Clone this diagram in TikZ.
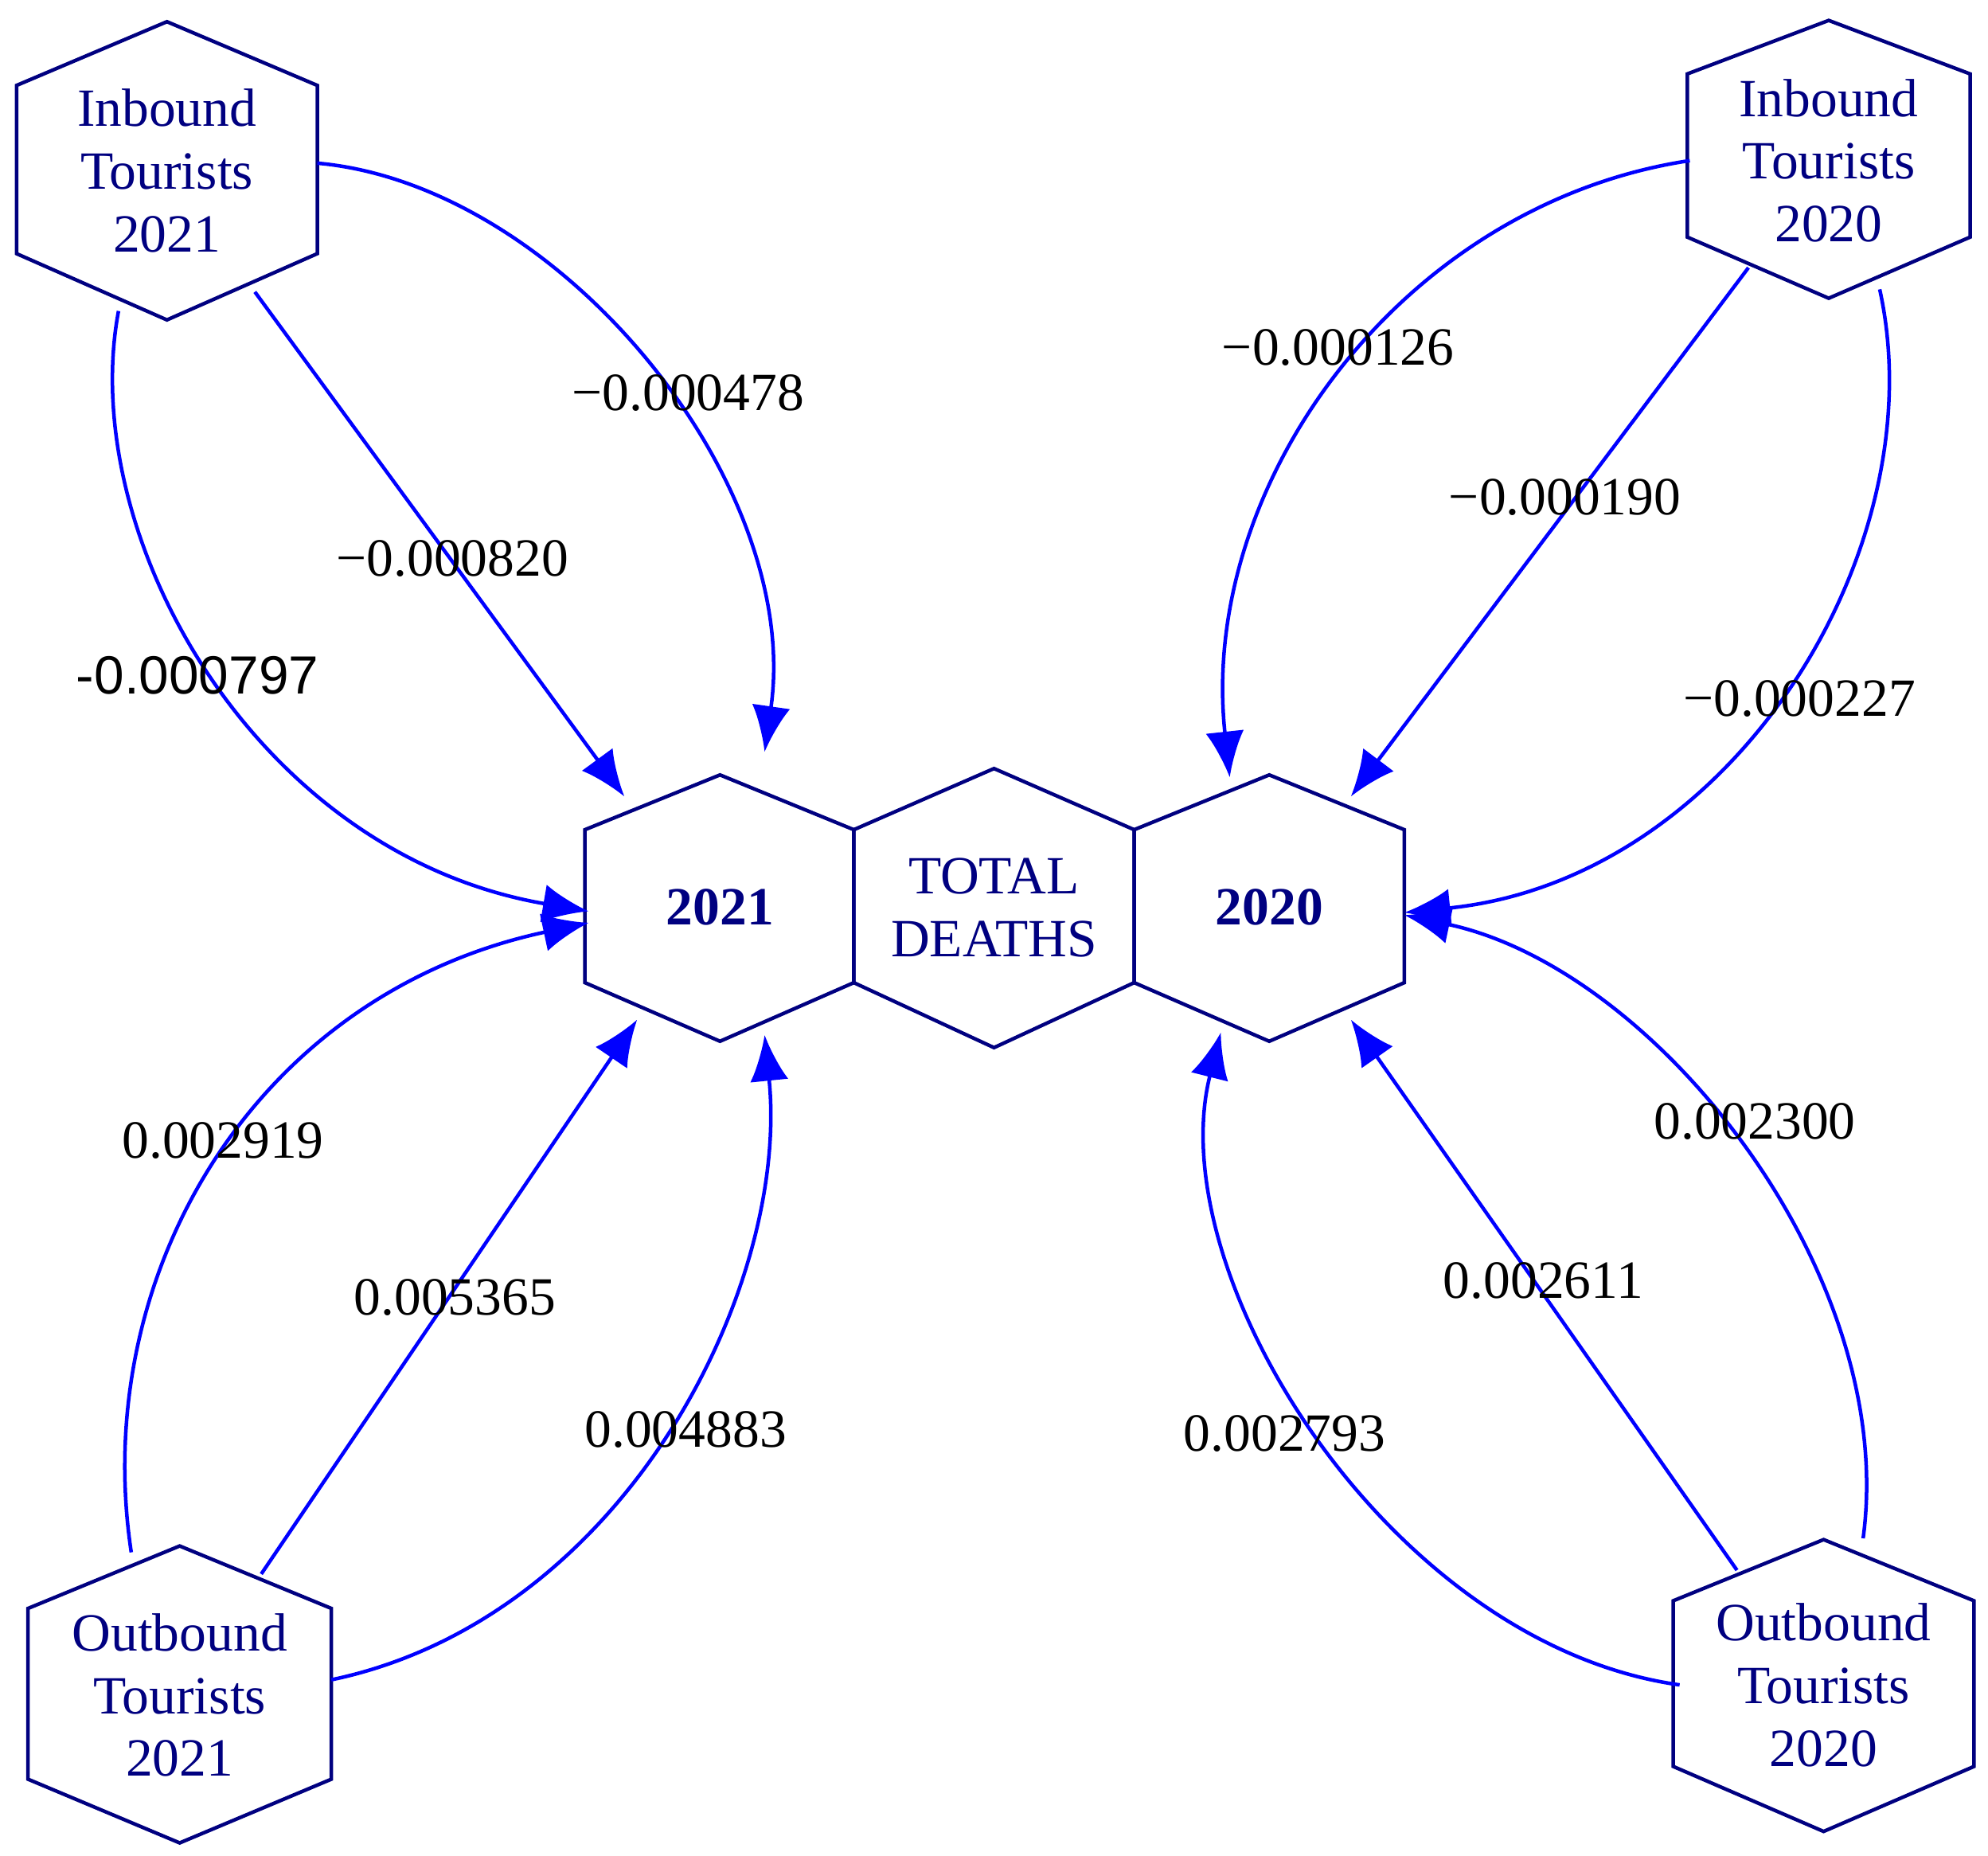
\documentclass[tikz,border=0pt]{standalone}
\usepackage{fontspec}
\setmainfont{Liberation Serif}
\newfontfamily\lsans{Liberation Sans}
\usetikzlibrary{calc,arrows.meta}
\definecolor{nv}{RGB}{0,0,128}
\begin{document}
\begin{tikzpicture}[x=0.01cm,y=-0.01cm,
  hexa/.style={draw=nv,line width=0.8pt,line join=miter},
  txt/.style={text=nv,font=\fontsize{12pt}{14pt}\selectfont,align=center,inner sep=0pt},
  edge/.style={draw=blue,line width=0.8pt,-{Latex[length=0.36cm,width=0.3cm]}},
  lab/.style={font=\fontsize{12pt}{14pt}\selectfont,inner sep=0pt}]
\useasboundingbox (0,0) rectangle (1560,1456);
% hexagons
\draw[hexa] (131,17)--(249,67)--(249,199)--(131,251)--(13,199)--(13,67)--cycle;
\draw[hexa] (1435,16)--(1546,58)--(1546,186)--(1435,234)--(1324,186)--(1324,58)--cycle;
\draw[hexa] (141,1213)--(260,1262)--(260,1396)--(141,1446)--(22,1396)--(22,1262)--cycle;
\draw[hexa] (1431,1208)--(1549,1256)--(1549,1386)--(1431,1437)--(1313,1386)--(1313,1256)--cycle;
\draw[hexa] (565,608)--(670,651)--(670,771)--(565,817)--(459,771)--(459,651)--cycle;
\draw[hexa] (780,603)--(890,651)--(890,771)--(780,822)--(670,771)--(670,651)--cycle;
\draw[hexa] (996,608)--(1102,651)--(1102,771)--(996,817)--(890,771)--(890,651)--cycle;
% nodes
\node[txt] (in21) at (131,134) {Inbound\\Tourists\\2021};
\node[txt] (in20) at (1435,126) {Inbound\\Tourists\\2020};
\node[txt] (out21) at (141,1330) {Outbound\\Tourists\\2021};
\node[txt] (out20) at (1431,1322) {Outbound\\Tourists\\2020};
\node[txt,font=\fontsize{12pt}{14pt}\selectfont\bfseries] (n21) at (565,712) {2021};
\node[txt] (tot) at (780,712) {TOTAL\\DEATHS};
\node[txt,font=\fontsize{12pt}{14pt}\selectfont\bfseries] (n20) at (996,712) {2020};
% edges left
\draw[edge] ($(in21)+(118,-6)$) .. controls (440,145) and (630,380) .. ($(n21)+(35,-122)$);
\draw[edge] ($(in21)+(69,95)$) -- ($(n21)+(-75,-87)$);
\draw[edge] ($(in21)+(-38,110)$) .. controls (60,420) and (200,670) .. ($(n21)+(-103,3)$);
\draw[edge] ($(out21)+(-38,-112)$) .. controls (70,1000) and (200,780) .. ($(n21)+(-103,12)$);
\draw[edge] ($(out21)+(64,-95)$) -- ($(n21)+(-65,88)$);
\draw[edge] ($(out21)+(119,-12)$) .. controls (490,1270) and (620,1010) .. ($(n21)+(35,100)$);
% edges right
\draw[edge] ($(in20)+(-109,0)$) .. controls (1100,160) and (940,380) .. ($(n20)+(-31,-102)$);
\draw[edge] ($(in20)+(-63,84)$) -- ($(n20)+(64,-87)$);
\draw[edge] ($(in20)+(40,101)$) .. controls (1520,430) and (1360,690) .. ($(n20)+(106,4)$);
\draw[edge] ($(out20)+(31,-115)$) .. controls (1490,1000) and (1300,760) .. ($(n20)+(106,6)$);
\draw[edge] ($(out20)+(-68,-90)$) -- ($(n20)+(64,88)$);
\draw[edge] ($(out20)+(-113,0)$) .. controls (1090,1290) and (910,1000) .. ($(n20)+(-38,98)$);
% labels
\node[lab] (l1) at (540,308) {−0.000478};
\node[lab] (l2) at (355,438) {−0.000820};
\node[lab,font=\lsans\fontsize{12pt}{14pt}\selectfont] (l3) at (155,530) {-0.000797};
\node[lab] (l4) at (175,895) {0.002919};
\node[lab] (l5) at (357,1018) {0.005365};
\node[lab] (l6) at (538,1122) {0.004883};
\node[lab] (l7) at (1050,273) {−0.000126};
\node[lab] (l8) at (1228,390) {−0.000190};
\node[lab] (l9) at (1412,548) {−0.000227};
\node[lab] (l10) at (1377,880) {0.002300};
\node[lab] (l11) at (1211,1005) {0.002611};
\node[lab] (l12) at (1008,1125) {0.002793};
\end{tikzpicture}
\end{document}
